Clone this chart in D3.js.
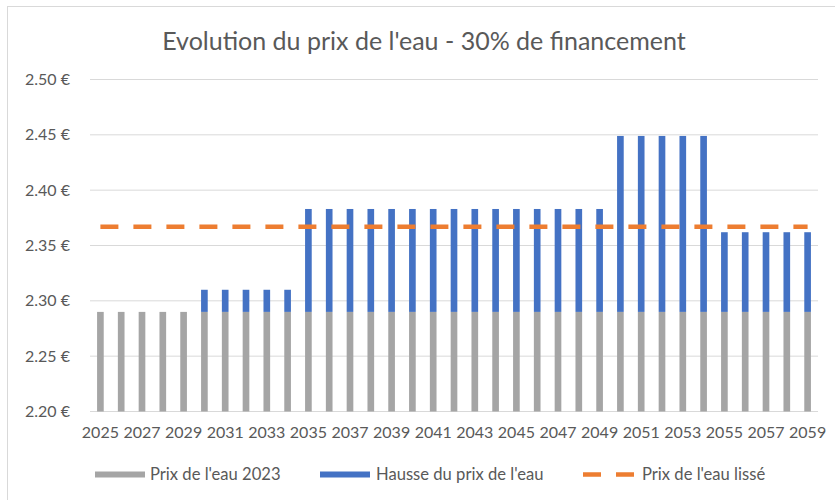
<!doctype html><html><head><meta charset="utf-8">
<style>
  body { margin: 0; background: #fff; }
  text { font-family: Lato, "Open Sans", sans-serif; fill: #595959; }
</style>
</head><body><script src='https://d3js.org/d3.v7.min.js'></script>

<script>
// Dimensions
const W = 835, H = 500;
const plotLeft = 90, plotRight = 818, plotTop = 79.5, plotBottom = 411.5;

// Data
const years   = d3.range(2025, 2060);
const base    = years.map(() => 2.29);   // Prix de l'eau 2023
const hausse  = [0, 0, 0, 0, 0,
                 0.02, 0.02, 0.02, 0.02, 0.02,
                 0.093, 0.093, 0.093, 0.093, 0.093, 0.093, 0.093, 0.093, 0.093, 0.093, 0.093, 0.093, 0.093, 0.093, 0.093,
                 0.159, 0.159, 0.159, 0.159, 0.159,
                 0.072, 0.072, 0.072, 0.072, 0.072];
const lisse   = years.map(() => 2.367);
const yTicks  = [2.20, 2.25, 2.30, 2.35, 2.40, 2.45, 2.50];
const xLabels = years.filter((d, i) => i % 2 === 0);
const title   = "Evolution du prix de l'eau - 30% de financement";
const legendNames = ["Prix de l'eau 2023", "Hausse du prix de l'eau", "Prix de l'eau lissé"];

const cGrey = "#A5A5A5", cBlue = "#4472C4", cOrange = "#ED7D31";

const svg = d3.select("body").append("svg")
  .attr("width", W).attr("height", H);

// chart frame
svg.append("rect")
  .attr("x", 7.5).attr("y", 6.5).attr("width", 840).attr("height", 520)
  .attr("fill", "none").attr("stroke", "#D9D9D9");

// title
svg.append("text")
  .attr("x", 424).attr("y", 50)
  .attr("text-anchor", "middle")
  .style("font-size", "25px")
  .text(title);

// scales
const x = d3.scaleBand().domain(years).range([plotLeft, plotRight])
  .paddingInner(0.68).paddingOuter(0.34);
const y = d3.scaleLinear().domain([2.20, 2.50]).range([plotBottom, plotTop]);

// gridlines
svg.append("g").selectAll("line").data(yTicks).join("line")
  .attr("x1", plotLeft).attr("x2", plotRight)
  .attr("y1", d => y(d)).attr("y2", d => y(d))
  .attr("stroke", "#D9D9D9").attr("stroke-width", 1);

// y axis labels
const yAxis = svg.append("g")
  .attr("transform", `translate(${plotLeft},0)`)
  .call(d3.axisLeft(y).tickValues(yTicks).tickSize(0).tickPadding(20)
        .tickFormat(d => d3.format(".2f")(d) + " €"));
yAxis.select(".domain").remove();
yAxis.selectAll("text").style("font-size", "16px").attr("fill", "#595959");

// x axis labels
const xAxis = svg.append("g")
  .attr("transform", `translate(0,${plotBottom})`)
  .call(d3.axisBottom(x).tickValues(xLabels).tickSize(0).tickPadding(15));
xAxis.select(".domain").remove();
xAxis.selectAll("text").style("font-size", "16px").attr("fill", "#595959");

// bars: base
svg.append("g").selectAll("rect").data(years).join("rect")
  .attr("x", d => x(d))
  .attr("width", x.bandwidth())
  .attr("y", (d, i) => y(base[i]))
  .attr("height", (d, i) => y(2.20) - y(base[i]))
  .attr("fill", cGrey);

// bars: hausse
svg.append("g").selectAll("rect").data(years).join("rect")
  .attr("x", d => x(d))
  .attr("width", x.bandwidth())
  .attr("y", (d, i) => y(base[i] + hausse[i]))
  .attr("height", (d, i) => y(base[i]) - y(base[i] + hausse[i]))
  .attr("fill", cBlue);

// smoothed price line
svg.append("path")
  .datum(years)
  .attr("fill", "none")
  .attr("stroke", cOrange)
  .attr("stroke-width", 4.5)
  .attr("stroke-dasharray", "18,15")
  .attr("d", d3.line()
     .x(d => x(d) + x.bandwidth() / 2)
     .y((d, i) => y(lisse[i])));

// legend
const ly = 474.5;
const leg = svg.append("g");
leg.append("rect").attr("x", 95).attr("y", ly - 3).attr("width", 50).attr("height", 6).attr("fill", cGrey);
leg.append("text").attr("x", 150).attr("y", ly).attr("dy", "0.35em").style("font-size", "16.6px").text(legendNames[0]);
leg.append("rect").attr("x", 320).attr("y", ly - 3).attr("width", 50).attr("height", 6).attr("fill", cBlue);
leg.append("text").attr("x", 376).attr("y", ly).attr("dy", "0.35em").style("font-size", "16.6px").text(legendNames[1]);
leg.append("line").attr("x1", 583).attr("x2", 635).attr("y1", ly).attr("y2", ly)
  .attr("stroke", cOrange).attr("stroke-width", 4.5).attr("stroke-dasharray", "18,15");
leg.append("text").attr("x", 642).attr("y", ly).attr("dy", "0.35em").style("font-size", "16.6px").text(legendNames[2]);
</script></body></html>
